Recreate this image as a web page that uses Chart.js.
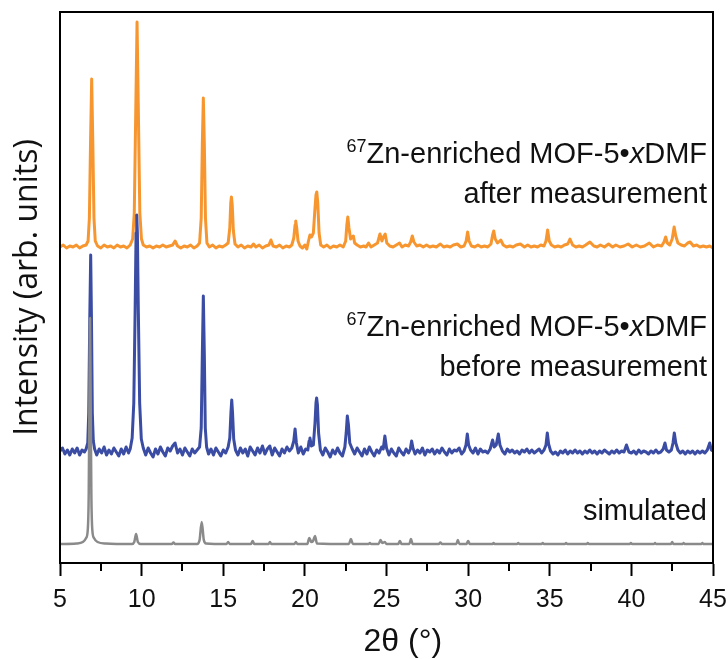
<!DOCTYPE html>
<html>
<head>
<meta charset="utf-8">
<script src="https://cdn.jsdelivr.net/npm/chart.js@4/dist/chart.umd.min.js"></script>
<style>
  html, body { margin: 0; padding: 0; background: #fff; }
  #wrap { width: 728px; height: 659px; }
</style>
</head>
<body>
<div id="wrap"><canvas id="xrd" width="728" height="659"></canvas></div>
<script>
// 2theta (deg), intensity (arb. units, patterns already stacked)
const simulated = [
  [5.0,19],[6.0,19.5],[6.4,21],[6.6,25],[6.7,33],[6.76,70],[6.8,160],[6.84,245],[6.88,160],[6.92,70],[6.98,33],[7.08,25],[7.3,21],[7.8,19.5],
  [9.4,19],[9.55,21],[9.66,29],[9.77,21],[9.95,19],[11.85,19],[11.95,20.5],[12.05,19],[13.4,19],[13.55,23],[13.68,41],[13.81,23],[13.95,19.5],
  [15.2,19],[15.3,21],[15.4,19],[16.7,19],[16.8,22],[16.9,19],[17.78,19],[17.86,21],[17.94,19],[19.36,19],[19.45,21],[19.54,19],
  [20.15,19],[20.27,25],[20.4,21],[20.5,22],[20.62,27],[20.74,19.5],[22.7,19],[22.82,24],[22.94,19],[23.9,19],[23.98,20],[24.06,19],
  [24.52,19],[24.63,23],[24.75,20],[24.9,21],[25.0,19],[25.72,19],[25.82,22],[25.92,19],[26.4,19],[26.5,24],[26.6,19],
  [28.2,19],[28.3,20.5],[28.4,19],[29.28,19],[29.37,23],[29.46,19],[29.9,19],[30.0,22],[30.1,19],[31.5,19],[31.56,20],[31.62,19],
  [33.0,19],[33.07,20],[33.14,19],[34.5,19],[34.57,20],[34.64,19],[35.93,19],[36.0,20],[36.07,19],[37.27,19],[37.33,20],[37.4,19],
  [39.9,19],[39.97,20],[40.04,19],[41.4,19],[41.45,20],[41.5,19],[42.43,19],[42.5,21],[42.57,19],[43.15,19],[43.2,20],[43.25,19],
  [44.3,19],[44.35,20],[44.4,19],[45.0,19]
];

const beforeMeasurement = [
  [5.0,112],[5.15,115],[5.3,109],[5.45,113],[5.6,108],[5.75,114],[5.9,110],[6.05,115],[6.2,108],[6.35,113],[6.5,111],[6.6,114],
  [6.7,120],[6.76,150],[6.82,240],[6.88,308],[6.93,240],[6.98,150],[7.04,122],[7.12,114],[7.25,108],[7.4,114],[7.55,110],[7.7,116],
  [7.85,108],[8.0,113],[8.15,109],[8.3,115],[8.45,111],[8.6,107],[8.75,114],[8.9,109],[9.05,116],[9.2,110],[9.3,114],[9.42,125],
  [9.52,160],[9.6,250],[9.66,330],[9.7,348],[9.74,330],[9.8,250],[9.88,160],[9.98,124],[10.1,115],[10.25,108],[10.4,115],[10.55,110],
  [10.7,106],[10.85,114],[11.0,109],[11.15,116],[11.3,111],[11.45,107],[11.6,115],[11.75,112],[11.9,117],[12.05,120],[12.2,110],
  [12.35,114],[12.5,108],[12.65,115],[12.8,111],[12.95,107],[13.1,114],[13.25,110],[13.4,113],[13.55,116],[13.65,135],[13.72,210],
  [13.78,267],[13.84,210],[13.9,135],[13.98,116],[14.1,109],[14.25,114],[14.4,108],[14.55,115],[14.7,111],[14.85,107],[15.0,113],
  [15.15,110],[15.3,116],[15.4,125],[15.47,150],[15.52,163],[15.57,150],[15.64,124],[15.75,113],[15.9,108],[16.05,115],[16.2,110],
  [16.35,114],[16.5,107],[16.65,116],[16.8,112],[16.95,108],[17.1,115],[17.25,110],[17.4,117],[17.55,109],[17.7,114],[17.85,117],
  [18.0,108],[18.15,115],[18.3,111],[18.45,107],[18.6,114],[18.75,110],[18.9,116],[19.05,112],[19.2,115],[19.32,122],[19.4,134],
  [19.48,120],[19.6,110],[19.75,116],[19.9,109],[20.05,114],[20.18,113],[20.26,122],[20.31,125],[20.4,117],[20.52,118],[20.62,140],
  [20.68,160],[20.72,165],[20.77,158],[20.84,130],[20.95,113],[21.1,108],[21.25,115],[21.4,111],[21.55,106],[21.7,113],[21.85,109],
  [22.0,115],[22.15,110],[22.3,107],[22.45,116],[22.53,130],[22.6,147],[22.67,138],[22.75,120],[22.9,114],[23.05,109],[23.2,115],
  [23.35,111],[23.5,107],[23.65,114],[23.8,109],[23.95,116],[24.1,111],[24.25,107],[24.4,113],[24.55,110],[24.7,116],[24.8,114],
  [24.9,127],[25.0,115],[25.15,108],[25.3,114],[25.45,110],[25.6,107],[25.75,115],[25.9,111],[26.05,108],[26.2,114],[26.35,110],
  [26.46,114],[26.54,122],[26.62,115],[26.75,109],[26.9,113],[27.05,110],[27.2,115],[27.35,108],[27.5,113],[27.65,111],[27.8,114],
  [27.95,109],[28.1,113],[28.25,110],[28.4,115],[28.55,111],[28.7,108],[28.85,114],[29.0,110],[29.15,113],[29.3,112],[29.45,115],
  [29.6,109],[29.75,112],[29.87,118],[29.95,129],[30.03,118],[30.15,113],[30.3,110],[30.45,115],[30.6,109],[30.75,114],[30.9,111],
  [31.05,112],[31.2,110],[31.35,114],[31.45,120],[31.5,123],[31.6,116],[31.72,118],[31.85,129],[31.95,118],[32.1,112],[32.25,109],
  [32.4,114],[32.55,111],[32.7,113],[32.85,110],[33.0,112],[33.15,109],[33.3,113],[33.45,111],[33.6,114],[33.75,110],[33.9,113],
  [34.05,110],[34.2,112],[34.35,114],[34.5,110],[34.65,113],[34.77,118],[34.85,130],[34.93,119],[35.05,112],[35.2,109],[35.35,111],
  [35.5,108],[35.65,112],[35.8,110],[35.95,113],[36.1,109],[36.25,112],[36.4,110],[36.55,113],[36.7,110],[36.85,112],[37.0,109],
  [37.15,112],[37.3,110],[37.45,113],[37.6,110],[37.75,112],[37.9,109],[38.05,112],[38.2,110],[38.35,113],[38.5,111],[38.65,109],
  [38.8,112],[38.95,110],[39.1,113],[39.25,110],[39.4,112],[39.55,111],[39.7,118],[39.85,111],[40.0,110],[40.15,112],[40.3,109],
  [40.45,113],[40.6,110],[40.75,112],[40.9,111],[41.05,109],[41.2,112],[41.35,110],[41.5,113],[41.65,110],[41.8,111],[41.95,114],
  [42.06,120],[42.15,113],[42.3,111],[42.45,113],[42.55,120],[42.63,130],[42.72,120],[42.85,113],[43.0,110],[43.15,112],[43.3,109],
  [43.45,112],[43.6,110],[43.75,112],[43.9,109],[44.05,112],[44.2,110],[44.35,112],[44.5,110],[44.65,113],[44.8,120],[44.9,113],[45.0,112]
];

const afterMeasurement = [
  [5.0,316],[5.2,318],[5.4,315],[5.6,317],[5.8,316],[6.0,318],[6.2,315],[6.4,317],[6.6,318],[6.72,322],[6.8,345],[6.87,420],
  [6.94,484],[7.01,420],[7.08,345],[7.16,322],[7.3,317],[7.5,315],[7.7,318],[7.9,316],[8.1,317],[8.3,315],[8.5,318],[8.7,316],
  [8.9,317],[9.1,315],[9.3,318],[9.45,324],[9.55,350],[9.63,440],[9.72,541],[9.81,440],[9.89,350],[9.99,324],[10.1,318],[10.3,316],
  [10.5,317],[10.7,315],[10.9,317],[11.1,316],[11.3,318],[11.5,316],[11.7,317],[11.9,318],[12.05,322],[12.2,317],[12.4,315],
  [12.6,317],[12.8,316],[13.0,318],[13.2,315],[13.4,317],[13.55,320],[13.65,345],[13.72,420],[13.78,465],[13.84,420],[13.91,345],
  [14.0,320],[14.15,316],[14.35,318],[14.55,315],[14.75,317],[14.95,316],[15.15,318],[15.3,320],[15.4,335],[15.46,360],[15.5,366],
  [15.55,358],[15.62,332],[15.72,319],[15.9,316],[16.1,318],[16.3,315],[16.5,317],[16.7,316],[16.85,319],[17.0,316],[17.2,318],
  [17.4,315],[17.6,317],[17.8,318],[17.92,323],[18.05,317],[18.25,316],[18.45,318],[18.65,315],[18.85,317],[19.05,316],[19.2,318],
  [19.32,325],[19.4,338],[19.44,342],[19.5,335],[19.58,322],[19.7,317],[19.85,315],[20.0,318],[20.12,314],[20.22,322],[20.31,328],
  [20.4,326],[20.52,330],[20.62,355],[20.68,368],[20.73,371],[20.79,360],[20.87,330],[20.97,318],[21.15,316],[21.35,318],[21.55,315],
  [21.75,317],[21.95,316],[22.15,318],[22.35,316],[22.5,322],[22.57,338],[22.63,346],[22.7,335],[22.8,324],[22.9,326],[22.97,327],
  [23.05,320],[23.2,318],[23.4,316],[23.6,317],[23.75,316],[23.9,320],[24.05,316],[24.25,318],[24.45,320],[24.6,329],[24.72,322],
  [24.84,327],[24.92,329],[25.02,320],[25.2,317],[25.4,316],[25.6,318],[25.8,320],[25.95,316],[26.15,318],[26.35,317],[26.48,321],
  [26.58,327],[26.68,321],[26.85,317],[27.05,318],[27.25,316],[27.45,318],[27.65,316],[27.85,317],[28.05,316],[28.3,319],[28.5,316],
  [28.7,317],[28.9,316],[29.1,318],[29.34,319],[29.55,316],[29.75,317],[29.88,322],[29.97,331],[30.06,322],[30.2,317],[30.4,316],
  [30.6,318],[30.8,316],[31.0,317],[31.2,316],[31.4,319],[31.5,328],[31.57,332],[31.66,324],[31.8,320],[32.0,323],[32.15,318],
  [32.35,316],[32.55,317],[32.75,316],[32.95,318],[33.2,319],[33.45,316],[33.65,318],[33.85,316],[34.05,317],[34.25,316],[34.45,318],
  [34.65,317],[34.77,322],[34.87,333],[34.97,322],[35.1,318],[35.3,316],[35.5,317],[35.7,316],[35.9,318],[36.1,319],[36.24,324],
  [36.4,318],[36.6,316],[36.8,317],[37.0,316],[37.2,318],[37.46,321],[37.7,317],[37.9,316],[38.1,318],[38.35,316],[38.6,319],
  [38.85,316],[39.05,318],[39.3,316],[39.55,317],[39.8,319],[40.05,316],[40.3,318],[40.55,316],[40.8,317],[41.1,320],[41.35,316],
  [41.6,318],[41.85,317],[42.0,321],[42.1,326],[42.2,320],[42.35,318],[42.5,324],[42.62,336],[42.72,327],[42.85,320],[43.05,318],
  [43.25,317],[43.45,320],[43.6,321],[43.8,317],[44.0,318],[44.2,316],[44.4,317],[44.6,316],[44.8,317],[45.0,315]
];

const xTicks = [5, 10, 15, 20, 25, 30, 35, 40, 45];
const xMinorTicks = [7.5, 12.5, 17.5, 22.5, 27.5, 32.5, 37.5, 42.5];
const seriesColors = ['#8a8a8a', '#3a4ca3', '#f7962f'];
// label lines: [y value, text parts]; each part [text, style]
const labelLines = [
  [408, [['67', 'sup'], ['Zn-enriched MOF-5•', ''], ['x', 'it'], ['DMF', '']]],
  [368, [['after measurement', '']]],
  [235, [['67', 'sup'], ['Zn-enriched MOF-5•', ''], ['x', 'it'], ['DMF', '']]],
  [195, [['before measurement', '']]],
  [51, [['simulated', '']]]
];
const xTitle = '2θ (°)';

const FONT = '"Liberation Sans", Arial, sans-serif';

const extras = {
  id: 'extras',
  afterDraw(chart) {
    const { ctx, chartArea: a, scales } = chart;
    ctx.save();
    // frame
    ctx.strokeStyle = '#000';
    ctx.lineWidth = 2;
    ctx.strokeRect(a.left, a.top, a.right - a.left, a.bottom - a.top);
    // minor ticks
    ctx.beginPath();
    xMinorTicks.forEach(v => {
      const px = Math.round(scales.x.getPixelForValue(v));
      ctx.moveTo(px, a.bottom);
      ctx.lineTo(px, a.bottom + 8);
    });
    ctx.stroke();
    // x title
    ctx.fillStyle = '#111';
    ctx.textBaseline = 'middle';
    ctx.textAlign = 'center';
    ctx.font = '32px ' + FONT;
    ctx.fillText(xTitle, scales.x.getPixelForValue(26), a.bottom + 79);
    // series labels
    ctx.textAlign = 'left';
    const right = scales.x.getPixelForValue(45) - 6;
    const fontOf = s => s === 'sup' ? '18px ' + FONT : s === 'it' ? 'italic 29px ' + FONT : '29px ' + FONT;
    labelLines.forEach(([yv, parts]) => {
      const y = scales.y.getPixelForValue(yv);
      let w = 0;
      parts.forEach(([t, s]) => { ctx.font = fontOf(s); w += ctx.measureText(t).width; });
      let x = right - w;
      parts.forEach(([t, s]) => {
        ctx.font = fontOf(s);
        ctx.fillText(t, x, s === 'sup' ? y - 8 : y);
        x += ctx.measureText(t).width;
      });
    });
    ctx.restore();
  }
};

const mk = (data, i, w, smooth) => ({
  data: data.map(([x, y]) => ({ x, y })),
  borderColor: seriesColors[i],
  borderWidth: w,
  pointRadius: 0,
  tension: 0,
  cubicInterpolationMode: smooth ? 'monotone' : 'default',
  borderJoinStyle: 'round',
  fill: false
});

new Chart(document.getElementById('xrd'), {
  type: 'line',
  data: {
    datasets: [mk(simulated, 0, 2.5, true), mk(beforeMeasurement, 1, 3, false), mk(afterMeasurement, 2, 3, false)]
  },
  options: {
    responsive: false,
    animation: false,
    parsing: false,
    layout: { padding: { top: 12, right: 15, left: 0, bottom: 0 } },
    plugins: { legend: { display: false }, tooltip: { enabled: false } },
    scales: {
      x: {
        type: 'linear',
        min: 5,
        max: 45,
        afterFit(s) { s.height = 96; s.paddingRight = 0; s.paddingLeft = 0; },
        afterBuildTicks(s) { s.ticks = xTicks.map(v => ({ value: v })); },
        grid: { drawOnChartArea: false, tickLength: 13, tickWidth: 2, tickColor: '#000' },
        border: { color: '#000', width: 2 },
        ticks: { color: '#111', font: { family: FONT, size: 25 }, padding: 9, maxRotation: 0 },
        title: { display: false }
      },
      y: {
        type: 'linear',
        min: 0,
        max: 551,
        afterFit(s) { s.width = 60; },
        grid: { display: false },
        border: { color: '#000', width: 2 },
        ticks: { display: false },
        title: { display: true, text: 'Intensity (arb. units)', color: '#111', font: { family: '"Open Sans", sans-serif', size: 32 }, padding: { top: 9, bottom: 0 } }
      }
    }
  },
  plugins: [extras]
});
</script>
</body>
</html>
